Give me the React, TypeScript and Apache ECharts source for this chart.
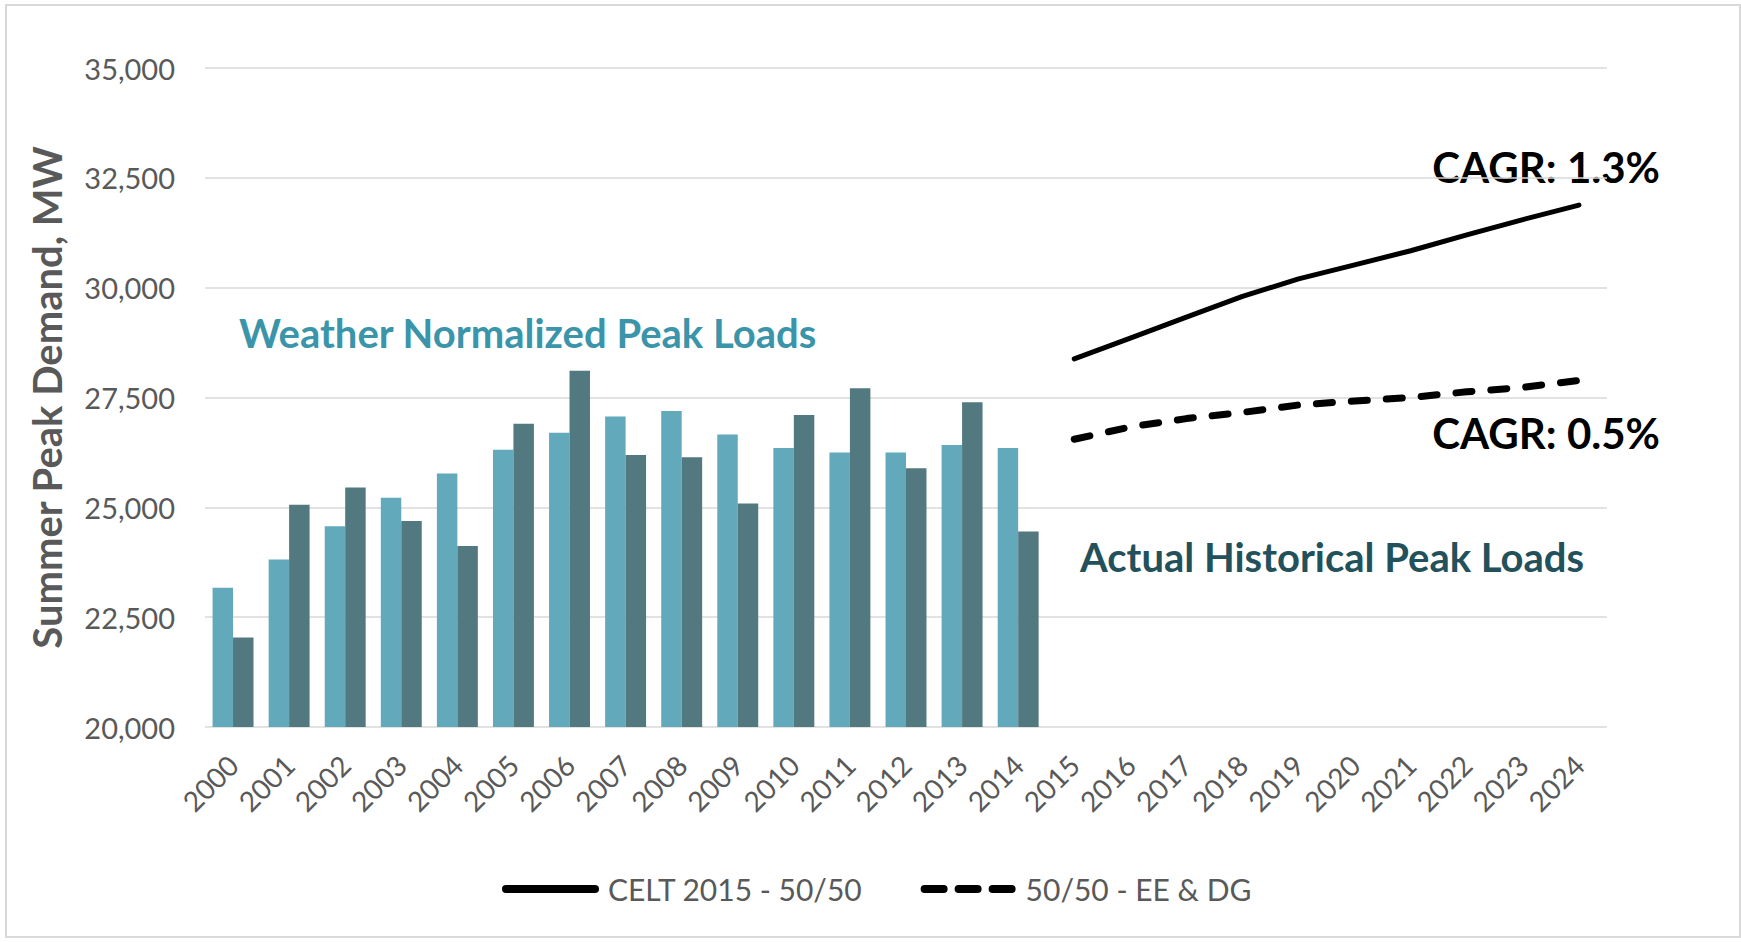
import React, { useEffect, useRef } from "react";
import * as echarts from "echarts";

const years = [
  "2000", "2001", "2002", "2003", "2004", "2005", "2006", "2007", "2008", "2009",
  "2010", "2011", "2012", "2013", "2014", "2015", "2016", "2017", "2018", "2019",
  "2020", "2021", "2022", "2023", "2024",
];
const historicalYears = [
  "2000", "2001", "2002", "2003", "2004", "2005", "2006", "2007",
  "2008", "2009", "2010", "2011", "2012", "2013", "2014",
];
const forecastYears = [
  "2015", "2016", "2017", "2018", "2019", "2020", "2021", "2022", "2023", "2024",
];
const weatherNormalized = [
  23170, 23810, 24570, 25220, 25770, 26310, 26700, 27070, 27190, 26660, 26350,
  26250, 26250, 26420, 26350,
];
const actualPeak = [
  22040, 25060, 25450, 24690, 24120, 26900, 28110, 26190, 26140, 25090, 27100,
  27710, 25890, 27390, 24450,
];
const celt5050 = [28380, 28850, 29330, 29800, 30200, 30520, 30840, 31200, 31550, 31880];
const eeDg5050 = [26550, 26830, 27020, 27160, 27330, 27420, 27500, 27630, 27730, 27890];

const yTicks = { min: 20000, max: 35000, interval: 2500 };

const FONT = 'Lato, "Open Sans", "Noto Sans", sans-serif';

const SOLID_ICON = "path://M4,0 L93,0 A4,4 0 0 1 93,8 L4,8 A4,4 0 0 1 4,0 Z";
const DASH_ICON =
  "path://M4,0 L23,0 A4,4 0 0 1 23,8 L4,8 A4,4 0 0 1 4,0 Z " +
  "M38,0 L57,0 A4,4 0 0 1 57,8 L38,8 A4,4 0 0 1 38,0 Z " +
  "M72,0 L91,0 A4,4 0 0 1 91,8 L72,8 A4,4 0 0 1 72,0 Z";

export default function App() {
  const ref = useRef<HTMLDivElement>(null);

  useEffect(() => {
    if (!ref.current) return;
    const chart = echarts.init(ref.current, undefined, { renderer: "svg" });

    const option = {
      animation: false,
      backgroundColor: "#ffffff",
      textStyle: { fontFamily: FONT },
      grid: { left: 205, right: 134, top: 68, bottom: 215, containLabel: false },
      legend: {
        data: [
          { name: "CELT 2015 - 50/50", icon: SOLID_ICON },
          { name: "50/50 - EE & DG", icon: DASH_ICON },
        ],
        left: 502,
        top: 874,
        padding: 0,
        itemWidth: 97,
        itemHeight: 8,
        itemGap: 58,
        textStyle: { fontSize: 30, color: "#595959", fontFamily: FONT, padding: [0, 0, 0, 4] },
      },
      xAxis: {
        type: "category",
        data: years,
        boundaryGap: true,
        axisLine: { show: false },
        axisTick: { show: false },
        axisLabel: {
          interval: 0,
          rotate: 45,
          fontSize: 28,
          color: "#595959",
          fontFamily: FONT,
          margin: 33,
        },
        splitLine: { show: false },
      },
      yAxis: {
        type: "value",
        min: yTicks.min,
        max: yTicks.max,
        interval: yTicks.interval,
        name: "Summer Peak Demand, MW",
        nameLocation: "middle",
        nameRotate: 90,
        nameGap: 138,
        nameTextStyle: {
          fontSize: 40,
          fontWeight: "bold",
          color: "#595959",
          fontFamily: FONT,
        },
        axisLine: { show: false },
        axisTick: { show: false },
        axisLabel: {
          fontSize: 29,
          color: "#595959",
          fontFamily: FONT,
          margin: 30,
          formatter: (v: number) => v.toLocaleString("en-US"),
        },
        splitLine: { lineStyle: { color: "#d9d9d9", width: 1.5 } },
      },
      series: [
        {
          name: "Weather Normalized Peak Loads",
          type: "bar",
          data: historicalYears.map((y, i) => [y, weatherNormalized[i]]),
          itemStyle: { color: "#62a9bb" },
          barGap: "0%",
          barCategoryGap: "27%",
        },
        {
          name: "Actual Historical Peak Loads",
          type: "bar",
          data: historicalYears.map((y, i) => [y, actualPeak[i]]),
          itemStyle: { color: "#527880" },
          barGap: "0%",
          barCategoryGap: "27%",
        },
        {
          name: "CELT 2015 - 50/50",
          type: "line",
          data: forecastYears.map((y, i) => [y, celt5050[i]]),
          symbol: "none",
          lineStyle: { color: "#000000", width: 5, cap: "round", join: "round" },
          itemStyle: { color: "#000000" },
        },
        {
          name: "50/50 - EE & DG",
          type: "line",
          data: forecastYears.map((y, i) => [y, eeDg5050[i]]),
          symbol: "none",
          lineStyle: {
            color: "#000000",
            width: 7,
            type: [16, 19],
            cap: "round",
            join: "round",
          },
          itemStyle: { color: "#000000" },
        },
      ],
      graphic: [
        {
          type: "rect",
          silent: true,
          shape: { x: 6, y: 5, width: 1734, height: 932 },
          style: { fill: "none", stroke: "#d9d9d9", lineWidth: 2 },
        },
        {
          type: "text",
          silent: true,
          style: {
            x: 239,
            y: 333,
            text: "Weather Normalized Peak Loads",
            fill: "#3b95aa",
            font: `bold 40px ${FONT}`,
            align: "left",
            verticalAlign: "middle",
            textAlign: "left",
            textVerticalAlign: "middle",
          },
        },
        {
          type: "text",
          silent: true,
          style: {
            x: 1080,
            y: 557,
            text: "Actual Historical Peak Loads",
            fill: "#22515c",
            font: `bold 40px ${FONT}`,
            align: "left",
            verticalAlign: "middle",
            textAlign: "left",
            textVerticalAlign: "middle",
          },
        },
        {
          type: "text",
          silent: true,
          style: {
            x: 1660,
            y: 167,
            text: "CAGR: 1.3%",
            fill: "#000000",
            font: `bold 42px ${FONT}`,
            align: "right",
            verticalAlign: "middle",
            textAlign: "right",
            textVerticalAlign: "middle",
          },
        },
        {
          type: "text",
          silent: true,
          style: {
            x: 1660,
            y: 433,
            text: "CAGR: 0.5%",
            fill: "#000000",
            font: `bold 42px ${FONT}`,
            align: "right",
            verticalAlign: "middle",
            textAlign: "right",
            textVerticalAlign: "middle",
          },
        },
      ],
    };

    chart.setOption(option as any);
    return () => chart.dispose();
  }, []);

  return (
    <div
      ref={ref}
      style={{ position: "absolute", left: 0, top: 0, width: 1741, height: 942, background: "#fff" }}
    />
  );
}
